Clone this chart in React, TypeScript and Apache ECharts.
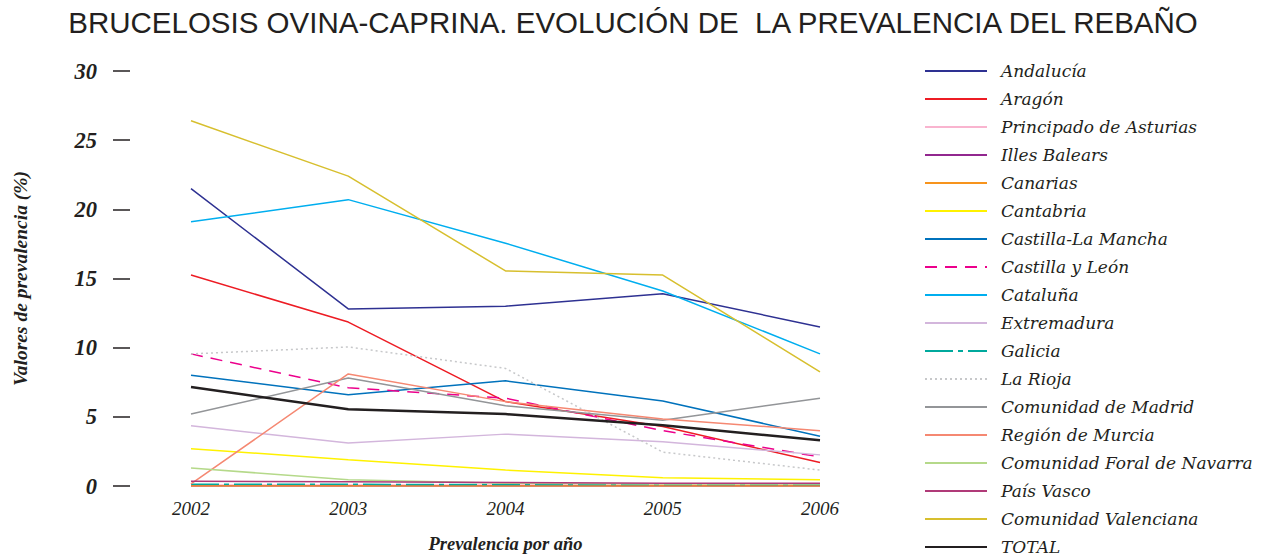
import React, { useEffect, useRef } from "react";
import * as echarts from "echarts";

const years = ["2002", "2003", "2004", "2005", "2006"];

const andalucia = [21.5, 12.8, 13.0, 13.9, 11.5];
const aragon = [15.25, 11.85, 6.1, 4.3, 1.7];
const asturias = [0.05, 0.05, 0.05, 0.05, 0.05];
const illesBalears = [0.0, 0.0, 0.0, 0.0, 0.0];
const canarias = [0.0, 0.0, 0.0, 0.0, 0.0];
const cantabria = [2.7, 1.9, 1.15, 0.6, 0.45];
const castillaLaMancha = [8.0, 6.6, 7.6, 6.15, 3.6];
const castillaLeon = [9.55, 7.1, 6.35, 4.0, 2.1];
const cataluna = [19.1, 20.7, 17.55, 14.1, 9.55];
const extremadura = [4.35, 3.1, 3.75, 3.2, 2.25];
const galicia = [0.12, 0.12, 0.1, 0.1, 0.1];
const laRioja = [9.55, 10.05, 8.5, 2.45, 1.15];
const madrid = [5.2, 7.8, 5.8, 4.75, 6.35];
const murcia = [0.15, 8.1, 6.1, 4.85, 4.0];
const navarra = [1.3, 0.45, 0.2, 0.15, 0.15];
const paisVasco = [0.35, 0.3, 0.25, 0.2, 0.2];
const valenciana = [26.4, 22.4, 15.55, 15.25, 8.25];
const total = [7.15, 5.55, 5.2, 4.4, 3.3];

const yTicks = [0, 5, 10, 15, 20, 25, 30];

const seriesDefs: [string, number[], string, any, number][] = [
  ["Andalucía", andalucia, "#2e3192", "solid", 1.5],
  ["Aragón", aragon, "#ed1c24", "solid", 1.5],
  ["Principado de Asturias", asturias, "#f9b4cf", "solid", 2],
  ["Illes Balears", illesBalears, "#92278f", "solid", 1.5],
  ["Canarias", canarias, "#f7941d", "solid", 1.5],
  ["Cantabria", cantabria, "#fff200", "solid", 1.5],
  ["Castilla-La Mancha", castillaLaMancha, "#0072bc", "solid", 1.5],
  ["Castilla y León", castillaLeon, "#ec008c", [12, 8], 1.5],
  ["Cataluña", cataluna, "#00aeef", "solid", 1.5],
  ["Extremadura", extremadura, "#d3b6dc", "solid", 1.5],
  ["Galicia", galicia, "#00a99d", [28, 5, 5, 5], 1.5],
  ["La Rioja", laRioja, "#c7c8ca", [2, 3], 1.5],
  ["Comunidad de Madrid", madrid, "#939598", "solid", 1.5],
  ["Región de Murcia", murcia, "#f58872", "solid", 1.5],
  ["Comunidad Foral de Navarra", navarra, "#b5d98a", "solid", 1.5],
  ["País Vasco", paisVasco, "#b03a78", "solid", 1.5],
  ["Comunidad Valenciana", valenciana, "#d7bf2e", "solid", 1.5],
  ["TOTAL", total, "#231f20", "solid", 2.5],
];

export default function App() {
  const ref = useRef<HTMLDivElement>(null);
  useEffect(() => {
    if (!ref.current) return;
    const chart = echarts.init(ref.current, null, { renderer: "svg" });
    chart.setOption({
      animation: false,
      title: {
        text: "BRUCELOSIS OVINA-CAPRINA. EVOLUCIÓN DE  LA PREVALENCIA DEL REBAÑO",
        left: "center",
        top: 2,
        textStyle: {
          fontFamily: "Liberation Sans",
          fontWeight: "normal",
          fontSize: 29.5,
          color: "#231f20",
        },
      },
      legend: {
        type: "plain",
        orient: "vertical",
        left: 924,
        top: 61,
        height: 500,
        padding: 0,
        itemWidth: 62,
        itemHeight: 14,
        itemGap: 8,
        itemStyle: { opacity: 0 },
        textStyle: {
          fontFamily: "DejaVu Serif",
          fontStyle: "italic",
          fontSize: 17,
          color: "#231f20",
          lineHeight: 20,
          padding: [0, 0, 0, 9],
        },
      },
      grid: {
        left: 191,
        top: 71,
        width: 629,
        height: 415,
        outerBoundsMode: "none",
        containLabel: false,
      },
      xAxis: {
        type: "category",
        data: years,
        boundaryGap: false,
        axisLine: { show: false },
        axisTick: { show: false },
        axisLabel: {
          margin: 13,
          fontFamily: "Liberation Serif",
          fontStyle: "italic",
          fontSize: 19,
          color: "#231f20",
        },
        name: "Prevalencia por año",
        nameLocation: "middle",
        nameGap: 48,
        nameTextStyle: {
          fontFamily: "Liberation Serif",
          fontStyle: "italic",
          fontWeight: "bold",
          fontSize: 18.5,
          color: "#231f20",
        },
      },
      yAxis: {
        type: "value",
        min: yTicks[0],
        max: yTicks[yTicks.length - 1],
        interval: 5,
        offset: 61,
        splitLine: { show: false },
        axisLine: { show: false },
        axisTick: {
          show: true,
          length: 17,
          lineStyle: { color: "#231f20", width: 1.5 },
        },
        axisLabel: {
          margin: 33,
          fontFamily: "Liberation Serif",
          fontStyle: "italic",
          fontWeight: "bold",
          fontSize: 22.5,
          color: "#231f20",
        },
        name: "Valores de prevalencia (%)",
        nameLocation: "middle",
        nameGap: 100,
        nameTextStyle: {
          fontFamily: "Liberation Serif",
          fontStyle: "italic",
          fontWeight: "bold",
          fontSize: 19.5,
          color: "#231f20",
        },
      },
      series: seriesDefs.map(([name, data, color, type, width]) => ({
        name,
        type: "line",
        data,
        symbol: "none",
        color,
        lineStyle: { color, type, width },
      })),
    });
    return () => chart.dispose();
  }, []);
  return (
    <div
      ref={ref}
      style={{ position: "absolute", left: 0, top: 0, width: 1266, height: 556 }}
    />
  );
}
